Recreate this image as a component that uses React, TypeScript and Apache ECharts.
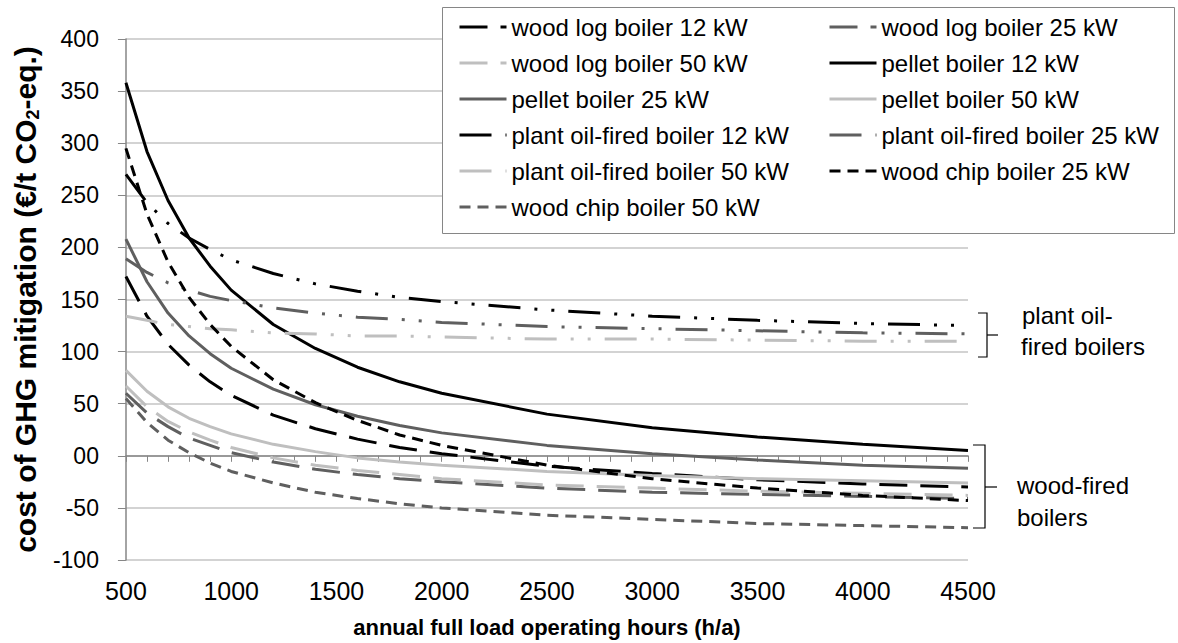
import React, { useEffect, useRef } from "react";
import * as echarts from "echarts";

// annual full load operating hours (h/a)
const hours = [500, 600, 700, 800, 900, 1000, 1200, 1400, 1600, 1800, 2000, 2500, 3000, 3500, 4000, 4500];

// cost of GHG mitigation (€/t CO2-eq.)
const woodLog12 = [172, 134, 107, 87, 71, 58, 39, 26, 16, 8, 2, -10, -17, -23, -27, -30];
const woodLog25 = [60, 41, 28, 17, 10, 3, -6, -13, -18, -22, -25, -31, -35, -37, -39, -41];
const woodLog50 = [67, 47, 33, 23, 15, 8, -2, -9, -14, -18, -22, -28, -31, -34, -36, -38];
const pellet12 = [358, 292, 245, 209, 182, 159, 126, 103, 85, 71, 60, 40, 27, 18, 11, 5];
const pellet25 = [208, 167, 137, 115, 98, 84, 64, 49, 38, 29, 22, 10, 2, -4, -9, -12];
const pellet50 = [82, 62, 47, 36, 28, 21, 11, 4, -2, -6, -9, -15, -19, -22, -24, -26];
const plantOil12 = [270, 243, 223, 209, 198, 188, 175, 165, 158, 152, 148, 140, 134, 130, 127, 125];
const plantOil25 = [189, 176, 166, 159, 153, 149, 142, 137, 133, 131, 128, 124, 122, 120, 118, 117];
const plantOil50 = [134, 130, 126, 124, 122, 121, 118, 117, 115, 115, 114, 112, 112, 111, 110, 110];
const woodChip25 = [295, 232, 186, 152, 126, 105, 73, 51, 34, 20, 10, -9, -22, -31, -38, -43];
const woodChip50 = [55, 32, 15, 3, -7, -15, -26, -35, -41, -46, -50, -57, -61, -65, -67, -69];

const names = {
  wl12: "wood log boiler 12 kW",
  wl25: "wood log boiler 25 kW",
  wl50: "wood log boiler 50 kW",
  p12: "pellet boiler 12 kW",
  p25: "pellet boiler 25 kW",
  p50: "pellet boiler 50 kW",
  po12: "plant oil-fired boiler 12 kW",
  po25: "plant oil-fired boiler 25 kW",
  po50: "plant oil-fired boiler 50 kW",
  wc25: "wood chip boiler 25 kW",
  wc50: "wood chip boiler 50 kW",
};

const legendLeft = [names.wl12, names.wl50, names.p25, names.po12, names.po50, names.wc50];
const legendRight = [names.wl25, names.p12, names.p50, names.po25, names.wc25];

const BLACK = "#000000";
const DARK = "#5f5f5f";
const LIGHT = "#bfbfbf";
const AXIS = "#868686";
const GRID = "#c4c4c4";
const FONT = "'Liberation Sans', Arial, Helvetica, sans-serif";

const LONG_DASH = [28, 13];
const DASH_DOT_DOT = [32, 14, 3, 14, 3, 14];
const SHORT_DASH = [11, 7];

export default function App() {
  const ref = useRef<HTMLDivElement>(null);

  useEffect(() => {
    if (!ref.current) return;
    const chart = echarts.init(ref.current, null, { renderer: "svg" });

    const mk = (name: string, data: number[], color: string, type: any) => ({
      name,
      type: "line",
      data: hours.map((h, i) => [h, data[i]]),
      symbol: "none",
      showSymbol: false,
      silent: true,
      xAxisIndex: 0,
      yAxisIndex: 0,
      itemStyle: { color, opacity: 0 },
      lineStyle: { color, width: 3, type, cap: "butt" },
      z: 2,
    });

    const legendBase = {
      orient: "vertical",
      top: 8,
      itemWidth: 47,
      itemHeight: 14,
      itemGap: 8,
      selectedMode: false,
      itemStyle: { opacity: 0 },
      lineStyle: { width: "inherit" },
      textStyle: { fontFamily: FONT, fontSize: 24, color: "#000", lineHeight: 28 },
      z: 10,
    };

    const textStyle = (text: string) => ({
      text,
      font: `24px ${FONT}`,
      fill: "#000",
      verticalAlign: "middle",
      textVerticalAlign: "middle",
    });

    const option: any = {
      animation: false,
      backgroundColor: "#ffffff",
      textStyle: { fontFamily: FONT },
      grid: { left: 120, right: 210, top: 39, bottom: 82, containLabel: false },
      legend: [
        { ...legendBase, left: 453, data: legendLeft },
        { ...legendBase, left: 823, data: legendRight },
      ],
      xAxis: [
        {
          type: "value",
          min: 500,
          max: 4500,
          interval: 500,
          position: "bottom",
          axisLine: { show: false, onZero: false },
          axisTick: { show: false },
          splitLine: { show: false },
          axisLabel: {
            fontFamily: FONT,
            fontSize: 25,
            color: "#000",
            margin: 18,
            formatter: (v: number) => String(v),
          },
          name: "annual full load operating hours (h/a)",
          nameLocation: "middle",
          nameGap: 56,
          nameTextStyle: { fontFamily: FONT, fontSize: 22, fontWeight: "bold", color: "#000" },
        },
        {
          type: "value",
          min: 500,
          max: 4500,
          interval: 100,
          position: "bottom",
          axisLine: { show: true, onZero: true, lineStyle: { color: AXIS, width: 1.5 } },
          axisTick: { show: true, length: 6, lineStyle: { color: AXIS, width: 1 } },
          axisLabel: { show: false },
          splitLine: { show: false },
        },
      ],
      yAxis: {
        type: "value",
        min: -100,
        max: 400,
        interval: 50,
        axisLine: { show: true, onZero: false, lineStyle: { color: AXIS, width: 1.5 } },
        axisTick: { show: true, length: 8, lineStyle: { color: AXIS, width: 1 } },
        splitLine: { show: true, lineStyle: { color: GRID, width: 1.5 } },
        axisLabel: {
          fontFamily: FONT,
          fontSize: 23,
          color: "#000",
          margin: 27,
          formatter: (v: number) => (v === 0 ? "00" : String(v)),
        },
        name: "cost of GHG mitigation (€/t CO{sub|2}-eq.)",
        nameLocation: "middle",
        nameRotate: 90,
        nameGap: 79,
        nameTextStyle: {
          fontFamily: FONT,
          fontSize: 30,
          fontWeight: "bold",
          color: "#000",
          lineHeight: 34,
          rich: {
            sub: {
              fontFamily: FONT,
              fontSize: 18,
              fontWeight: "bold",
              color: "#000",
              lineHeight: 20,
              verticalAlign: "bottom",
            },
          },
        },
      },
      graphic: [
        {
          type: "rect",
          shape: { x: 442.5, y: 7.5, width: 732, height: 226 },
          style: { fill: "#ffffff", stroke: AXIS, lineWidth: 1 },
          z: 3,
          silent: true,
        },
        {
          type: "polyline",
          shape: { points: [[978, 313], [987, 313], [987, 357], [978, 357]] },
          style: { stroke: "#000", lineWidth: 1.2, fill: null },
          silent: true,
        },
        {
          type: "line",
          shape: { x1: 987, y1: 335, x2: 998, y2: 335 },
          style: { stroke: "#000", lineWidth: 1.2 },
          silent: true,
        },
        {
          type: "polyline",
          shape: { points: [[973, 445], [985, 445], [985, 528], [973, 528]] },
          style: { stroke: "#000", lineWidth: 1.2, fill: null },
          silent: true,
        },
        {
          type: "line",
          shape: { x1: 985, y1: 487, x2: 997, y2: 487 },
          style: { stroke: "#000", lineWidth: 1.2 },
          silent: true,
        },
        { type: "text", x: 1022, y: 315, style: textStyle("plant oil-"), silent: true },
        { type: "text", x: 1021, y: 346, style: textStyle("fired boilers"), silent: true },
        { type: "text", x: 1017, y: 485, style: textStyle("wood-fired"), silent: true },
        { type: "text", x: 1017, y: 517, style: textStyle("boilers"), silent: true },
      ],
      series: [
        mk(names.wl12, woodLog12, BLACK, LONG_DASH),
        mk(names.wl25, woodLog25, DARK, LONG_DASH),
        mk(names.wl50, woodLog50, LIGHT, LONG_DASH),
        mk(names.p12, pellet12, BLACK, "solid"),
        mk(names.p25, pellet25, DARK, "solid"),
        mk(names.p50, pellet50, LIGHT, "solid"),
        mk(names.po12, plantOil12, BLACK, DASH_DOT_DOT),
        mk(names.po25, plantOil25, DARK, DASH_DOT_DOT),
        mk(names.po50, plantOil50, LIGHT, DASH_DOT_DOT),
        mk(names.wc25, woodChip25, BLACK, SHORT_DASH),
        mk(names.wc50, woodChip50, DARK, SHORT_DASH),
      ],
    };

    chart.setOption(option);
    return () => chart.dispose();
  }, []);

  return (
    <div
      ref={ref}
      style={{ position: "fixed", left: 0, top: 0, width: 1178, height: 643, background: "#fff" }}
    />
  );
}
